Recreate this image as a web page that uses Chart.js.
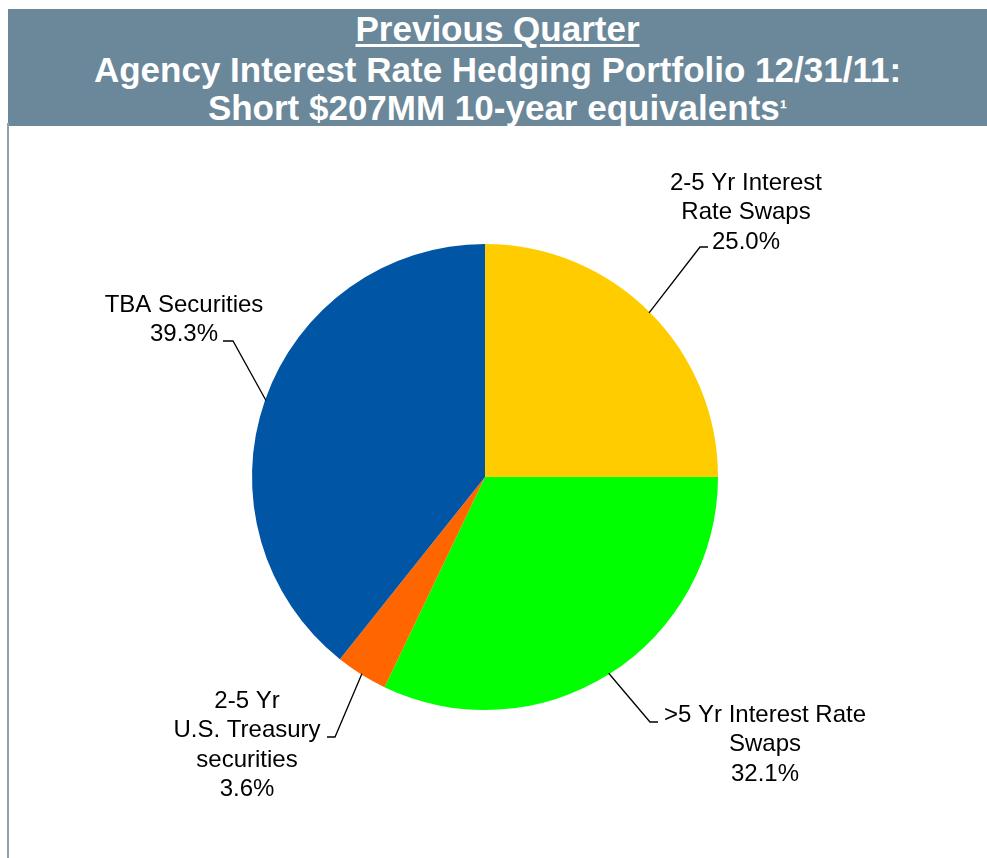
<!DOCTYPE html>
<html>
<head>
<meta charset="utf-8">
<script src="https://cdn.jsdelivr.net/npm/chart.js@4.4.1/dist/chart.umd.min.js"></script>
<style>
    html, body { margin: 0; padding: 0; background: #fff; }
    #page { position: relative; width: 987px; height: 858px; overflow: hidden; }
    #header {
        position: absolute; left: 8px; top: 9px; width: 979px; height: 117px;
        background: #6a8899; color: #fff;
        font-family: 'Liberation Sans', Arial, sans-serif; font-weight: bold; font-size: 35px;
    }
    #header div { position: absolute; left: 0; width: 100%; text-align: center; line-height: 1; white-space: nowrap; }
    #header .sup { font-size: 22px; position: relative; top: -4px; }
    #sideRule { position: absolute; left: 7px; top: 123px; width: 2px; height: 735px; background: #8aa2b1; }
    #pie { position: absolute; left: 0; top: 0; }
</style>
</head>
<body>
<div id="page">
    <div id="header">
        <div style="top:2px;"><span style="text-decoration: underline; text-underline-offset: 3px;">Previous Quarter</span></div>
        <div style="top:43px;">Agency Interest Rate Hedging Portfolio 12/31/11:</div>
        <div style="top:81px;">Short $207MM 10-year equivalents<span class="sup">¹</span></div>
    </div>
    <div id="sideRule"></div>
    <canvas id="pie" width="987" height="858"></canvas>
</div>
<script>
const SEGMENTS = [
    ['2-5 Yr Interest', 'Rate Swaps'],
    ['>5 Yr Interest Rate', 'Swaps'],
    ['2-5 Yr', 'U.S. Treasury', 'securities'],
    ['TBA Securities']
];
const SHARES = [25.0, 32.1, 3.6, 39.3];
const COLORS = ['#ffcc00', '#00ff00', '#ff6600', '#0055a5'];

// where each callout sits: text centre x, first baseline y, elbow and end of the leader
const CALLOUTS = [
    { x: 746, y: 190, elbow: [700, 247], end: [708, 247] },
    { x: 765, y: 722, elbow: [650, 722], end: [658, 722] },
    { x: 247, y: 708, elbow: [335, 737], end: [327, 737] },
    { x: 184, y: 312, elbow: [233, 341], end: [223, 341] }
];
const LINE_H = 29.3;

const calloutPlugin = {
    id: 'callouts',
    afterDatasetsDraw(chart) {
        const ctx = chart.ctx;
        const arcs = chart.getDatasetMeta(0).data;
        ctx.save();
        ctx.font = '24px "Liberation Sans", Arial, sans-serif';
        ctx.fillStyle = '#000';
        ctx.strokeStyle = '#000';
        ctx.lineWidth = 1.3;
        ctx.textAlign = 'center';
        ctx.textBaseline = 'alphabetic';
        arcs.forEach((arc, i) => {
            const c = CALLOUTS[i];
            const mid = (arc.startAngle + arc.endAngle) / 2;
            const r = arc.outerRadius - 1;
            ctx.beginPath();
            ctx.moveTo(arc.x + Math.cos(mid) * r, arc.y + Math.sin(mid) * r);
            ctx.lineTo(c.elbow[0], c.elbow[1]);
            ctx.lineTo(c.end[0], c.end[1]);
            ctx.stroke();
            const lines = SEGMENTS[i].concat([SHARES[i].toFixed(1) + '%']);
            lines.forEach((t, k) => ctx.fillText(t, c.x, c.y + k * LINE_H));
        });
        ctx.restore();
    }
};

new Chart(document.getElementById('pie'), {
    type: 'pie',
    data: {
        labels: SEGMENTS.map(s => s.join(' ')),
        datasets: [{
            data: SHARES,
            backgroundColor: COLORS,
            borderWidth: 0
        }]
    },
    options: {
        responsive: false,
        animation: false,
        layout: { padding: { left: 252, right: 269, top: 244, bottom: 148 } },
        plugins: {
            legend: { display: false },
            tooltip: { enabled: false }
        }
    },
    plugins: [calloutPlugin]
});
</script>
</body>
</html>
